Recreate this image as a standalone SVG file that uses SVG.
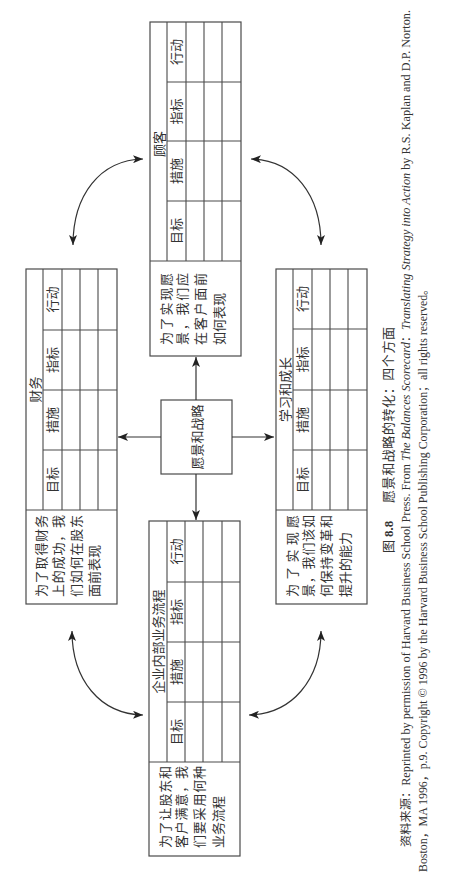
<svg xmlns="http://www.w3.org/2000/svg" width="455" height="886" viewBox="0 0 455 886">
<style>
.bx{fill:#fff;stroke:#4a4a4a;stroke-width:1.2}
.ln{fill:none;stroke:#4a4a4a;stroke-width:1.1}
.t{font-family:"Liberation Serif","Noto Sans CJK SC",serif;font-size:13px;fill:#333}
.c{text-anchor:middle}
.s{font-family:"Liberation Serif","Noto Sans CJK SC",serif;font-size:11.5px;fill:#333}
.i{font-style:italic}
.cn{fill:none;stroke:#333;stroke-width:1.2;marker-end:url(#ah)}
.cn2{fill:none;stroke:#333;stroke-width:1.2;marker-start:url(#ah);marker-end:url(#ah)}
</style>
<defs>
<marker id="ah" markerUnits="userSpaceOnUse" markerWidth="11" markerHeight="8" refX="10" refY="4" orient="auto-start-reverse" viewBox="0 0 11 8">
<path d="M0,0 L10,4 L0,8 L2.5,4 z" fill="#222"/>
</marker>
</defs>
<rect width="455" height="886" fill="#fff"/>
<g transform="translate(0,886) rotate(-90)">
 <g id="finance">
  <rect class="bx" x="282" y="26" width="335" height="91"/>
  <path class="ln" d="M376,26V117 M376,43H617 M376,62H617 M376,80H617 M376,98H617 M436,43V117 M496,43V117 M556,43V117"/>
  <text class="t c" x="496.5" y="39.5">财务</text>
  <text class="t c" x="406" y="57">目标</text>
  <text class="t c" x="466" y="57">措施</text>
  <text class="t c" x="526" y="57">指标</text>
  <text class="t c" x="586.5" y="57">行动</text>
  <text class="t" x="289" y="46" textLength="82" lengthAdjust="spacing">为了取得财务</text>
  <text class="t" x="289" y="62.5" textLength="82" lengthAdjust="spacing">上的成功，我</text>
  <text class="t" x="289" y="80.5" textLength="82" lengthAdjust="spacing">们如何在股东</text>
  <text class="t" x="289" y="99">面前表现</text>
 </g>
 <g id="customer">
  <rect class="bx" x="530" y="150" width="334" height="91"/>
  <path class="ln" d="M625,150V241 M625,167H864 M625,186H864 M625,204H864 M625,222H864 M685,167V241 M745,167V241 M804,167V241"/>
  <text class="t c" x="742" y="163.5">顾客</text>
  <text class="t c" x="655" y="181">目标</text>
  <text class="t c" x="715" y="181">措施</text>
  <text class="t c" x="774.5" y="181">指标</text>
  <text class="t c" x="834" y="181">行动</text>
  <text class="t" x="541" y="171" textLength="72" lengthAdjust="spacing">为了实现愿</text>
  <text class="t" x="541" y="186.5" textLength="72" lengthAdjust="spacing">景，我们应</text>
  <text class="t" x="541" y="205" textLength="72" lengthAdjust="spacing">在客户面前</text>
  <text class="t" x="541" y="224">如何表现</text>
 </g>
 <g id="internal">
  <rect class="bx" x="30" y="149" width="335" height="91"/>
  <path class="ln" d="M124,149V240 M124,167H365 M124,185H365 M124,203H365 M124,222H365 M184,167V240 M244,167V240 M304,167V240"/>
  <text class="t c" x="244.5" y="162.5">企业内部业务流程</text>
  <text class="t c" x="154" y="180.5">目标</text>
  <text class="t c" x="214" y="180.5">措施</text>
  <text class="t c" x="274" y="180.5">指标</text>
  <text class="t c" x="334.5" y="180.5">行动</text>
  <text class="t" x="38" y="170" textLength="82" lengthAdjust="spacing">为了让股东和</text>
  <text class="t" x="38" y="185.5" textLength="82" lengthAdjust="spacing">客户满意，我</text>
  <text class="t" x="38" y="204" textLength="82" lengthAdjust="spacing">们要采用何种</text>
  <text class="t" x="38" y="223">业务流程</text>
 </g>
 <g id="learning">
  <rect class="bx" x="282" y="276" width="335" height="91"/>
  <path class="ln" d="M376,276V367 M376,293H617 M376,312H617 M376,330H617 M376,348H617 M436,293V367 M496,293V367 M557,293V367"/>
  <text class="t c" x="496.5" y="289.5">学习和成长</text>
  <text class="t c" x="406" y="307">目标</text>
  <text class="t c" x="466" y="307">措施</text>
  <text class="t c" x="526.5" y="307">指标</text>
  <text class="t c" x="587" y="307">行动</text>
  <text class="t" x="289" y="297" textLength="82" lengthAdjust="spacing">为了实现愿</text>
  <text class="t" x="289" y="312.5" textLength="82" lengthAdjust="spacing">景，我们该如</text>
  <text class="t" x="289" y="331" textLength="82" lengthAdjust="spacing">何保持变革和</text>
  <text class="t" x="289" y="350">提升的能力</text>
 </g>
 <g id="vision">
  <rect class="bx" x="412" y="161" width="74" height="71"/>
  <text class="t c" x="449" y="201.5">愿景和战略</text>
 </g>
 <g id="caption">
  <text class="t" x="333" y="393">图</text>
  <text class="t" x="349" y="393" font-weight="bold">8.8</text>
  <text class="t" x="383" y="393" textLength="176" lengthAdjust="spacing">愿景和战略的转化：四个方面</text>
 </g>
 <g id="source">
  <text class="s" x="39" y="410" textLength="837" lengthAdjust="spacingAndGlyphs">资料来源：Reprinted by permission of Harvard Business School Press. From <tspan class="i">The Balances Scorecard</tspan>：<tspan class="i">Translating Strategy into Action</tspan> by R.S. Kaplan and D.P. Norton.</text>
  <text class="s" x="14" y="427" textLength="589" lengthAdjust="spacingAndGlyphs">Boston，MA 1996，p.9. Copyright © 1996 by the Harvard Business School Publishing Corporation；all rights reserved。</text>
 </g>
</g>
<g id="connectors">
 <path class="cn" d="M196,400 L196,357"/>
 <path class="cn" d="M196,474 L196,520"/>
 <path class="cn" d="M161,437 L118,437"/>
 <path class="cn" d="M232,437 L274,437"/>
 <path class="cn2" d="M73,245 C73,195 100,160 143,159"/>
 <path class="cn2" d="M251,159 C294,160 321,195 321,245"/>
 <path class="cn2" d="M72,631 C72,680 100,714 143,715"/>
 <path class="cn2" d="M249,715 C292,714 321,680 321,631"/>
</g>
</svg>
